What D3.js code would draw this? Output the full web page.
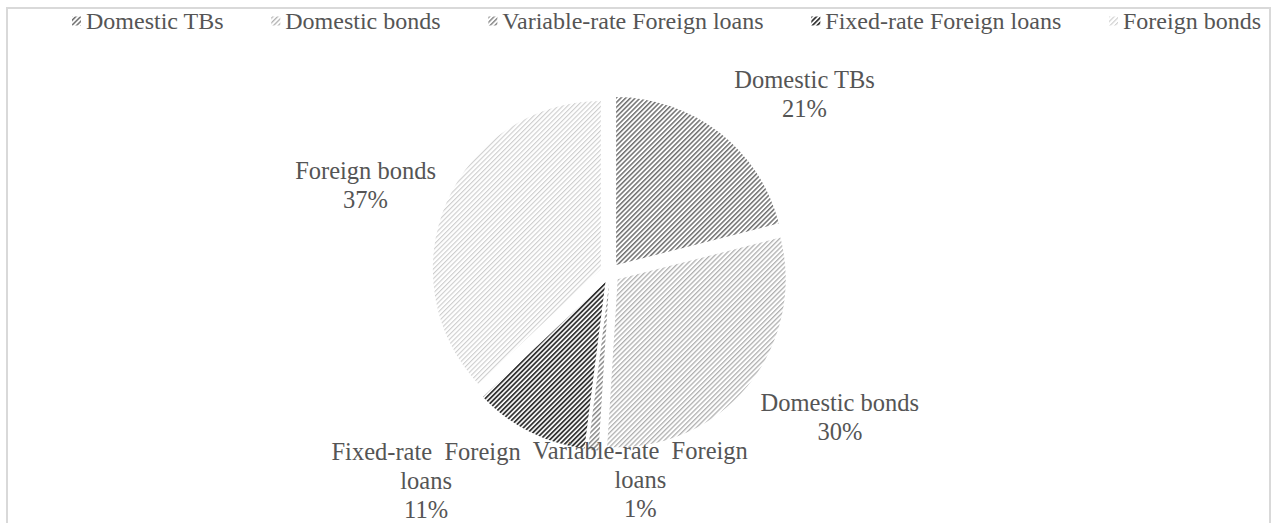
<!DOCTYPE html>
<html>
<head>
<meta charset="utf-8">
<script src="https://cdn.jsdelivr.net/npm/d3@7"></script>
<style>
  html, body { margin: 0; padding: 0; background: #fff; }
  svg { display: block; }
</style>
</head>
<body>
<svg id="chart" width="1275" height="523"></svg>
<script>
// Debt portfolio composition by instrument type
const categories = ["Domestic TBs", "Domestic bonds", "Variable-rate Foreign loans", "Fixed-rate Foreign loans", "Foreign bonds"];
const shares = [21, 30, 1, 11, 37];
// Multi-line wording used for the slice labels
const labelLines = [
  ["Domestic TBs"],
  ["Domestic bonds"],
  ["Variable-rate  Foreign", "loans"],
  ["Fixed-rate  Foreign", "loans"],
  ["Foreign bonds"]
];
// Stripe (foreground) colour of each hatched slice
const stripeColors = ["#707070", "#b0b0b0", "#8a8a8a", "#353535", "#cdcdcd"];
const stripeWidths = [1.5, 1.3, 1.5, 1.8, 1.1];
// Label nudges from the label ring, per slice
const labelNudge = [[32, 28], [26, -23], [53, -54], [-67, -26], [-6, 16]];

const FONT = "Liberation Serif";
const TEXT_COLOR = "#555555";
const svg = d3.select("#chart");

// Hatch patterns ("/" direction)
const defs = svg.append("defs");
stripeColors.forEach((c, i) => {
  const p = defs.append("pattern")
    .attr("id", "hatch" + i)
    .attr("patternUnits", "userSpaceOnUse")
    .attr("width", 3.4).attr("height", 3.4)
    .attr("patternTransform", "rotate(45)");
  p.append("rect").attr("width", 3.4).attr("height", 3.4).attr("fill", "#fff");
  p.append("rect").attr("x", 0).attr("y", 0)
    .attr("width", stripeWidths[i]).attr("height", 3.4).attr("fill", c);
});

// Chart frame
svg.append("rect")
  .attr("x", 7).attr("y", 8)
  .attr("width", 1263).attr("height", 530)
  .attr("fill", "#fff")
  .attr("stroke", "#d9d9d9").attr("stroke-width", 2);

function styled(sel, size) {
  return sel.style("font-family", FONT).style("font-size", size + "px").style("fill", TEXT_COLOR);
}

// Legend, spread across the top of the frame
const legendFont = 24;
const legend = svg.append("g");
const tmp = styled(legend.append("text"), legendFont).attr("visibility", "hidden");
const widths = categories.map(c => { tmp.text(c); return tmp.node().getComputedTextLength(); });
tmp.remove();
const marker = 9, markerPad = 5;
const legendLeft = 72, legendRight = 1261;
const itemGap = (legendRight - legendLeft - d3.sum(widths) - categories.length * (marker + markerPad)) / (categories.length - 1);
let lx = legendLeft;
const legendY = 21;
categories.forEach((c, i) => {
  legend.append("rect")
    .attr("x", lx).attr("y", legendY - marker / 2)
    .attr("width", marker).attr("height", marker)
    .attr("fill", "url(#hatch" + i + ")");
  styled(legend.append("text"), legendFont)
    .attr("x", lx + marker + markerPad).attr("y", legendY)
    .attr("dominant-baseline", "central")
    .text(c);
  lx += marker + markerPad + widths[i] + itemGap;
});

// Pie with every slice pulled out a little
const cx = 610, cy = 273, radius = 168, explode = 10;
const pie = d3.pie().sort(null).value(d => d);
const arcs = pie(shares);
const arc = d3.arc().innerRadius(0).outerRadius(radius);
const g = svg.append("g").attr("transform", `translate(${cx},${cy})`);

g.selectAll("path.slice")
  .data(arcs)
  .join("path")
  .attr("class", "slice")
  .attr("d", arc)
  .attr("fill", (d, i) => "url(#hatch" + i + ")")
  .attr("transform", d => {
    const a = (d.startAngle + d.endAngle) / 2;
    return `translate(${Math.sin(a) * explode},${-Math.cos(a) * explode})`;
  });

// Data labels: name and percentage
const labelR = 262, lineH = 29, labelFont = 24.5;
const lab = g.append("g");
arcs.forEach((d, i) => {
  const a = (d.startAngle + d.endAngle) / 2;
  const x = Math.sin(a) * labelR + labelNudge[i][0] + 2;
  const y = -Math.cos(a) * labelR + labelNudge[i][1];
  const lines = labelLines[i].concat([shares[i] + "%"]);
  const y0 = y - (lines.length - 1) * lineH / 2;
  lines.forEach((t, k) => {
    styled(lab.append("text"), labelFont)
      .attr("x", x).attr("y", y0 + k * lineH)
      .attr("text-anchor", "middle")
      .attr("dominant-baseline", "central")
      .style("white-space", "pre")
      .text(t);
  });
});
</script>
</body>
</html>
